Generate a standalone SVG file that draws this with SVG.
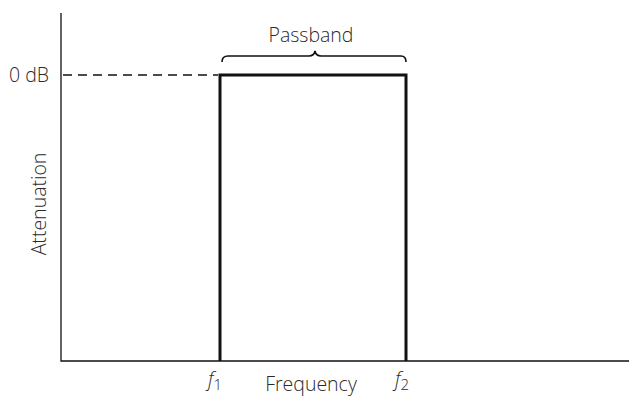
<svg xmlns="http://www.w3.org/2000/svg" width="629" height="398" viewBox="0 0 629 398">
<style>
text{font-family:"Open Sans","Noto Sans","Liberation Sans",sans-serif;fill:#2a2a2a;font-size:19.5px;font-weight:300}
.ax{stroke:#111;stroke-width:1.3;fill:none}
.sig{stroke:#111;stroke-width:3;fill:none;stroke-linejoin:miter}
</style>
<rect width="629" height="398" fill="#fff"/>
<g id="axes">
<path class="ax" d="M61,13 V361 H629"/>
<line x1="63" y1="75" x2="218" y2="75" stroke="#111" stroke-width="1.3" stroke-dasharray="9,6"/>
</g>
<g id="connectors">
<path class="sig" d="M220,361 V75 H406 V361"/>
<path d="M222,62 Q222,56 228,56 H309 Q314,56 315,51 Q316,56 321,56 H401 Q406,56 406,62" fill="none" stroke="#111" stroke-width="1.6"/>
</g>
<g id="labels">
<text x="311" y="42" text-anchor="middle">Passband</text>
<text x="9" y="82">0 dB</text>
<text transform="translate(46,204) rotate(-90)" text-anchor="middle">Attenuation</text>
<text x="311" y="391" text-anchor="middle" font-size="19">Frequency</text>
<text x="208" y="386" font-style="italic" font-size="21">f<tspan font-size="15" font-style="normal" dy="4">1</tspan></text>
<text x="395" y="386" font-style="italic" font-size="21">f<tspan font-size="15" font-style="normal" dy="4">2</tspan></text>
</g>
</svg>
